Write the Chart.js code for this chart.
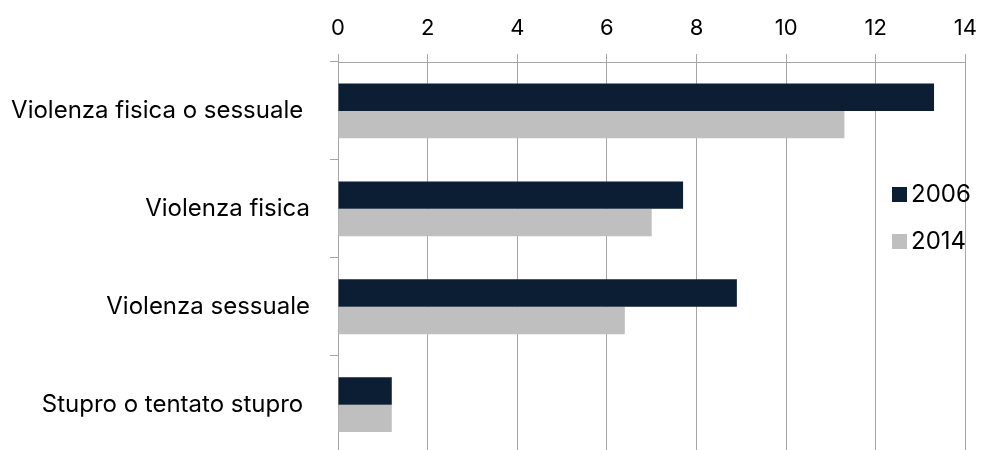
<!DOCTYPE html>
<html>
<head>
<meta charset="utf-8">
<script src="https://cdn.jsdelivr.net/npm/chart.js@4/dist/chart.umd.min.js"></script>
<style>
  html, body { margin: 0; padding: 0; background: #fff; overflow: hidden; }
  #wrap { position: relative; width: 989px; height: 488px; }
</style>
</head>
<body>
<div id="wrap"><canvas id="chart"></canvas></div>
<script>
// categories (trailing spaces as in the original labels)
const categories = ['Violenza fisica o sessuale ', 'Violenza fisica', 'Violenza sessuale', 'Stupro o tentato stupro '];
const values2006 = [13.3, 7.7, 8.9, 1.2];
const values2014 = [11.3, 7.0, 6.4, 1.2];
const xTicks = [0, 2, 4, 6, 8, 10, 12, 14];

const FONT = 'Inter, "Open Sans", sans-serif';
const gridColor = '#a6a6a6';

// legend drawn inside the plot area, like the original
const insideLegend = {
    id: 'insideLegend',
    afterDraw(chart) {
        const ctx = chart.ctx;
        const x = 892;
        const ys = [194, 241];
        ctx.save();
        ctx.font = '24px ' + FONT;
        ctx.textBaseline = 'middle';
        chart.data.datasets.forEach((ds, i) => {
            ctx.fillStyle = ds.backgroundColor;
            ctx.fillRect(x, ys[i] - 7, 15, 15);
            ctx.fillStyle = '#000';
            ctx.fillText(ds.label, x + 19, ys[i] + 1);
        });
        ctx.restore();
    }
};

new Chart(document.getElementById('chart'), {
    type: 'bar',
    data: {
        labels: categories,
        datasets: [
            { label: '2006', data: values2006, backgroundColor: '#0c1e33', categoryPercentage: 0.56, barPercentage: 1 },
            { label: '2014', data: values2014, backgroundColor: '#bfbfbf', categoryPercentage: 0.56, barPercentage: 1 }
        ]
    },
    options: {
        indexAxis: 'y',
        responsive: true,
        maintainAspectRatio: false,
        animation: false,
        layout: { padding: { left: 0, right: 22, top: 0, bottom: 0 } },
        plugins: {
            legend: { display: false },
            tooltip: { enabled: false }
        },
        scales: {
            x: {
                position: 'top',
                min: 0,
                max: 14,
                afterBuildTicks: (scale) => { scale.ticks = xTicks.map(v => ({ value: v })); },
                afterFit: (scale) => { scale.height = 62; },
                grid: { color: gridColor, lineWidth: 1, tickLength: 8 },
                border: { color: gridColor },
                ticks: { color: '#000', font: { family: FONT, size: 22 }, padding: 12, maxRotation: 0 }
            },
            y: {
                afterFit: (scale) => { scale.width = 338; },
                grid: { offset: true, drawOnChartArea: false, color: gridColor, tickLength: 8 },
                border: { color: gridColor },
                ticks: { color: '#000', font: { family: FONT, size: 24 }, padding: 20 }
            }
        }
    },
    plugins: [insideLegend]
});
</script>
</body>
</html>
